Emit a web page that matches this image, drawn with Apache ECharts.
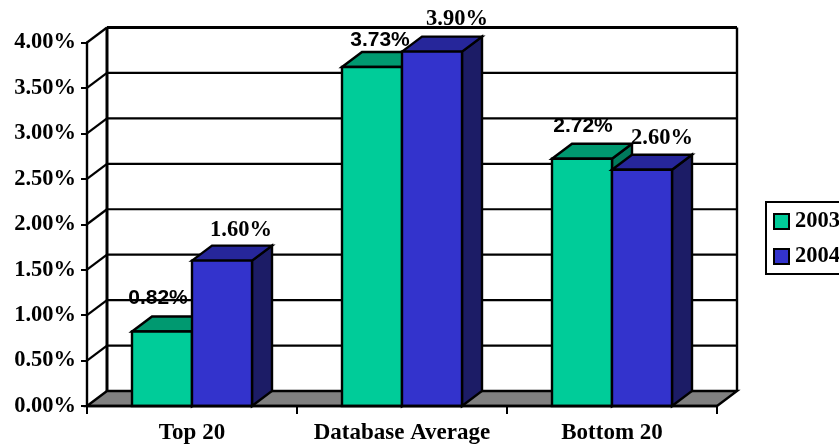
<!DOCTYPE html>
<html><head><meta charset="utf-8">
<style>html,body{margin:0;padding:0;background:#fff;overflow:hidden}#c{width:839px;height:445px}</style>
<script src="https://cdn.jsdelivr.net/npm/echarts@6/dist/echarts.min.js"></script>
</head><body><div id="c"></div>
<script>
const categories = ['Top 20', 'Database Average', 'Bottom 20'];
const values2003 = [0.82, 3.73, 2.72];
const values2004 = [1.60, 3.90, 2.60];
const tickValues = [0, 0.5, 1, 1.5, 2, 2.5, 3, 3.5, 4];

// 3D look: depth offset of the box in pixels, and bar size as a share of the band
const DX = 20, DY = 15, BAR_SHARE = 60 / 210;
const SERIF = '"Liberation Serif","Times New Roman",serif';
const SANS = '"Liberation Sans",Arial,sans-serif';
const K = '#000';

const chart = echarts.init(document.getElementById('c'), null, {renderer: 'canvas'});

function poly(points, fill, lw) {
  return {type: 'polygon', shape: {points}, style: {fill, stroke: K, lineWidth: lw === undefined ? 2.4 : lw, lineJoin: 'miter'}};
}
function line(x1, y1, x2, y2, lw) {
  return {type: 'line', shape: {x1, y1, x2, y2}, style: {stroke: K, lineWidth: lw, fill: null}};
}
function barSeries(name, values, slot, colors) {
  return {
    name, type: 'custom', z: 4 + slot, clip: false,
    data: values.map((v, i) => [i, v]),
    encode: {x: 0, y: 1},
    itemStyle: {color: colors[0]},
    renderItem(params, api) {
      const i = api.value(0), v = api.value(1);
      const band = api.size([1, 0])[0], w = band * BAR_SHARE;
      const c = api.coord([i, 0]);
      const top = api.coord([i, v])[1];
      const x0 = c[0] + (slot - 1) * w, x1 = x0 + w, y0 = c[1];
      return {type: 'group', children: [
        poly([[x1, y0], [x1 + DX, y0 - DY], [x1 + DX, top - DY], [x1, top]], colors[2]),
        poly([[x0, top], [x0 + DX, top - DY], [x1 + DX, top - DY], [x1, top]], colors[1]),
        poly([[x0, y0], [x1, y0], [x1, top], [x0, top]], colors[0])
      ]};
    }
  };
}
function labelSeries(name, values, slot, font, offsets) {
  return {
    name, type: 'custom', z: 8, clip: false, silent: true,
    data: values.map((v, i) => [i, v]),
    encode: {x: 0, y: 1},
    renderItem(params, api) {
      const i = api.value(0), v = api.value(1);
      const band = api.size([1, 0])[0], w = band * BAR_SHARE;
      const c = api.coord([i, v]);
      const o = offsets[i];
      return {type: 'text', style: {
        x: c[0] + (slot - 0.5) * w + o[0], y: c[1] + o[1],
        text: v.toFixed(2) + '%', fill: K, align: 'center', verticalAlign: 'middle',
        font: 'bold ' + font
      }};
    }
  };
}

chart.setOption({
  animation: false,
  backgroundColor: '#fff',
  grid: {left: 87, right: 122, top: 42.5, bottom: 38.5, containLabel: false},
  legend: {
    data: [{name: '2003'}, {name: '2004'}],
    orient: 'vertical', left: 766, top: 202,
    padding: [8, 10, 6, 7], itemWidth: 15, itemHeight: 15, itemGap: 12,
    icon: 'rect', selectedMode: false,
    borderColor: K, borderWidth: 2, backgroundColor: '#fff',
    itemStyle: {borderColor: K, borderWidth: 2},
    textStyle: {color: K, fontFamily: SERIF, fontWeight: 'bold', fontSize: 22.5, lineHeight: 20, padding: [1, 0, 0, 1]}
  },
  xAxis: {
    type: 'category', data: categories, z: 6,
    axisLine: {show: true, lineStyle: {color: K, width: 2.4}},
    axisTick: {show: true, alignWithLabel: false, interval: 0, length: 8, lineStyle: {color: K, width: 2}},
    axisLabel: {color: K, fontFamily: SERIF, fontWeight: 'bold', fontSize: 23, margin: 16, interval: 0, hideOverlap: false}
  },
  yAxis: {
    type: 'value', min: 0, max: 4, interval: 0.5, z: 6,
    axisLine: {show: true, lineStyle: {color: K, width: 2.4}},
    axisTick: {show: true, length: 6, lineStyle: {color: K, width: 2}},
    splitLine: {show: false},
    axisLabel: {color: K, fontFamily: SERIF, fontWeight: 'bold', fontSize: 22.5, margin: 11,
      formatter: v => v.toFixed(2) + '%'}
  },
  series: [
    {
      name: 'wall', type: 'custom', z: 1, clip: false, silent: true,
      data: tickValues.map(v => [0, v]),
      encode: {x: 0, y: 1},
      renderItem(params, api) {
        const v = api.value(1);
        const band = api.size([1, 0])[0];
        const p = api.coord([0, v]);
        const left = p[0] - band / 2, right = left + band * categories.length, y = p[1];
        const kids = [];
        if (v === 0) {
          kids.push(poly([[left, y], [left + DX, y - DY], [right + DX, y - DY], [right, y]], '#808080'));
          const top = api.coord([0, tickValues[tickValues.length - 1]])[1];
          kids.push(line(left + DX, y - DY, left + DX, top - DY, 3));
          kids.push(line(right + DX, y - DY, right + DX, top - DY, 2.4));
        } else {
          const lw = v === tickValues[tickValues.length - 1] ? 3 : 2.2;
          kids.push(line(left, y, left + DX, y - DY, 2.2));
          kids.push(line(left + DX, y - DY, right + DX, y - DY, lw));
        }
        return {type: 'group', children: kids};
      }
    },
    barSeries('2003', values2003, 0, ['#00CC99', '#009970', '#007A5C']),
    barSeries('2004', values2004, 1, ['#3333CC', '#26269A', '#1C1C66']),
    labelSeries('labels2003', values2003, 0, '21px ' + SANS, [[-4, -33], [8, -27], [1, -33]]),
    labelSeries('labels2004', values2004, 1, '22.5px ' + SERIF, [[19, -30], [25, -32], [20, -32]])
  ]
});
</script></body></html>
